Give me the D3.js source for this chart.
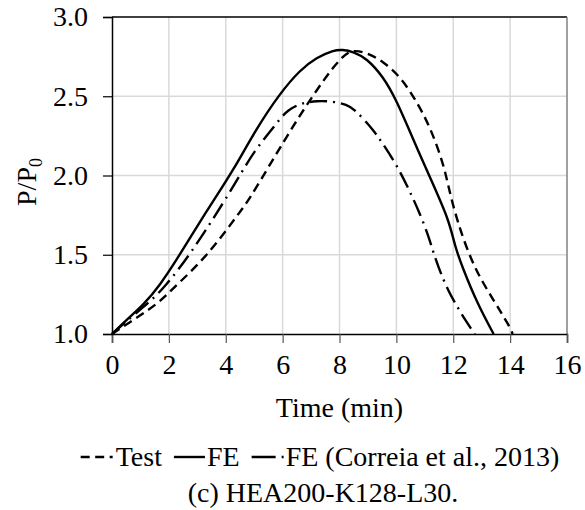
<!DOCTYPE html>
<html>
<head>
<meta charset="utf-8">
<script src="https://cdn.jsdelivr.net/npm/d3@7"></script>
<style>
  body { margin: 0; background: #fff; }
  svg, svg text { font-family: "Liberation Serif", "Times New Roman", serif !important; }
</style>
</head>
<body>
<div id="chart"></div>
<script>
// --- data ---
const xTicks = [0, 2, 4, 6, 8, 10, 12, 14, 16];
const yTicks = [1.0, 1.5, 2.0, 2.5, 3.0];

const testTime = [0, 0.63, 1.1, 1.69, 2.27, 3.33, 4.5, 4.85, 5.44, 5.91, 6.5, 7.2, 7.8, 8.25, 8.55, 8.95, 9.54, 10.19, 10.71, 11.18, 11.65, 11.83, 12.12, 12.7, 13.41, 13.99, 14.09];
const testLoad = [1.0, 1.075, 1.13, 1.204, 1.309, 1.488, 1.77, 1.856, 2.035, 2.175, 2.35, 2.54, 2.69, 2.775, 2.79, 2.775, 2.72, 2.613, 2.466, 2.31, 2.077, 1.93, 1.72, 1.425, 1.215, 1.046, 1.0];

const feTime = [0, 0.63, 1.1, 1.69, 2.27, 2.8, 3.62, 4.27, 5.09, 5.91, 6.61, 7.2, 7.78, 8.1, 8.5, 8.95, 9.54, 10.0, 10.6, 11.2, 11.85, 12.05, 12.3, 12.85, 13.42];
const feLoad = [1.0, 1.109, 1.183, 1.309, 1.467, 1.625, 1.856, 2.035, 2.3, 2.519, 2.666, 2.745, 2.79, 2.795, 2.78, 2.74, 2.623, 2.476, 2.224, 1.98, 1.72, 1.56, 1.43, 1.19, 1.0];

const corTime = [0, 0.75, 1.34, 1.86, 2.74, 4.03, 4.5, 5.03, 5.56, 5.91, 6.2, 6.61, 7.2, 7.8, 8.25, 8.54, 9.19, 9.48, 10.01, 10.42, 10.83, 11.18, 11.3, 11.77, 12.53, 12.76];
const corLoad = [1.0, 1.12, 1.204, 1.298, 1.498, 1.86, 2.003, 2.161, 2.276, 2.36, 2.413, 2.455, 2.472, 2.467, 2.447, 2.418, 2.287, 2.213, 2.066, 1.92, 1.76, 1.593, 1.51, 1.278, 1.057, 1.0];

const seriesNames = ["Test", "FE", "FE (Correia et al., 2013)"];

// --- layout ---
const width = 585, height = 510;
const margin = { left: 112, right: 18, top: 17, bottom: 176 };
const plotW = width - margin.left - margin.right;
const plotH = height - margin.top - margin.bottom;
const fs = 28;

const x = d3.scaleLinear().domain([0, 16]).range([0, plotW]);
const y = d3.scaleLinear().domain([1.0, 3.0]).range([plotH, 0]);

const svg = d3.select("#chart").append("svg")
  .attr("width", width).attr("height", height);

const g = svg.append("g").attr("transform", `translate(${margin.left},${margin.top})`);

// grid
g.append("g").selectAll("line").data(yTicks.slice(1, -1)).join("line")
  .attr("x1", 0).attr("x2", plotW)
  .attr("y1", d => y(d)).attr("y2", d => y(d))
  .attr("stroke", "#d9d9d9").attr("stroke-width", 1.5);
g.append("g").selectAll("line").data(xTicks.slice(1, -1)).join("line")
  .attr("y1", 0).attr("y2", plotH)
  .attr("x1", d => x(d)).attr("x2", d => x(d))
  .attr("stroke", "#d9d9d9").attr("stroke-width", 1.5);

// frame top/right
g.append("line").attr("x1", 0).attr("x2", plotW).attr("y1", 0).attr("y2", 0)
  .attr("stroke", "#000").attr("stroke-width", 1.5);
g.append("line").attr("x1", plotW).attr("x2", plotW).attr("y1", 0).attr("y2", plotH)
  .attr("stroke", "#808080").attr("stroke-width", 1.5);

// axes
const xAxis = g.append("g").attr("transform", `translate(0,${plotH})`)
  .call(d3.axisBottom(x).tickValues(xTicks).tickSize(9).tickPadding(11).tickFormat(d3.format("d")));
const yAxis = g.append("g")
  .call(d3.axisLeft(y).tickValues(yTicks).tickSize(9).tickPadding(15).tickFormat(d3.format(".1f")));

[xAxis, yAxis].forEach(a => {
  a.attr("font-family", null).attr("font-size", null);
  a.select(".domain").attr("stroke", "#000").attr("stroke-width", 1.5);
  a.selectAll(".tick line").attr("stroke", "#000").attr("stroke-width", 1.2);
  a.selectAll("text").style("font-size", fs + "px").attr("fill", "#000");
});
xAxis.selectAll(".tick line").attr("stroke", "#555");

// lines (basis smoothing irons out reading jitter)
const seriesData = [
  { name: seriesNames[0], pts: d3.zip(testTime, testLoad), dash: "9,5.5" },
  { name: seriesNames[1], pts: d3.zip(feTime, feLoad), dash: null },
  { name: seriesNames[2], pts: d3.zip(corTime, corLoad), dash: "17,6,2,6" }
];
const lineGen = d3.line().x(d => x(d[0])).y(d => y(d[1])).curve(d3.curveBasis);
g.append("g").selectAll("path").data(seriesData).join("path")
  .attr("d", d => lineGen(d.pts))
  .attr("fill", "none").attr("stroke", "#000").attr("stroke-width", 2.4)
  .attr("stroke-dasharray", d => d.dash);

// axis titles
svg.append("text").attr("x", margin.left + plotW / 2).attr("y", 417)
  .attr("text-anchor", "middle").style("font-size", fs + "px").text("Time (min)");

const yl = svg.append("text").attr("transform", "translate(36,182) rotate(-90)")
  .attr("text-anchor", "middle").style("font-size", fs + "px");
yl.append("tspan").text("P/P");
yl.append("tspan").style("font-size", "18px").attr("dy", 6).text("0");

// legend, laid out from measured text widths and centred
const legDash = ["9,5.5", null, "24,6,2,6"];
const sampleW = [32, 31, 33];
const gapAfterSample = [3, 2, 1];
const gapAfterText = 12;
const leg = svg.append("g");
let cx = 0;
const parts = [];
seriesNames.forEach((name, i) => {
  const ln = leg.append("line").attr("y1", 457).attr("y2", 457)
    .attr("stroke", "#000").attr("stroke-width", 2.4).attr("stroke-dasharray", legDash[i]);
  const tx = leg.append("text").attr("y", 466).style("font-size", fs + "px").text(name);
  const w = tx.node().getComputedTextLength();
  parts.push({ ln, tx, x0: cx, tx0: cx + sampleW[i] + gapAfterSample[i], sw: sampleW[i] });
  cx += sampleW[i] + gapAfterSample[i] + w + (i < seriesNames.length - 1 ? gapAfterText : 0);
});
const off = 320 - cx / 2;
parts.forEach(p => {
  p.ln.attr("x1", off + p.x0).attr("x2", off + p.x0 + p.sw);
  p.tx.attr("x", off + p.tx0);
});

// caption
svg.append("text").attr("x", 323).attr("y", 502).attr("text-anchor", "middle")
  .style("font-size", fs + "px").text("(c) HEA200-K128-L30.");
</script>
</body>
</html>
